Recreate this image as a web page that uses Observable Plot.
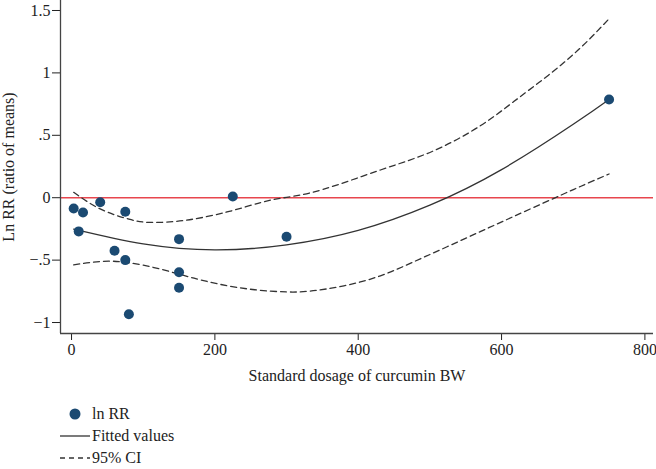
<!DOCTYPE html>
<html>
<head>
<meta charset="utf-8">
<script src="https://cdn.jsdelivr.net/npm/d3@7"></script>
<script src="https://cdn.jsdelivr.net/npm/@observablehq/plot@0.6"></script>
<style>
  body { margin: 0; background: #fff; font-family: "Liberation Serif", "DejaVu Serif", serif; color: #222; }
  #chart { width: 656px; height: 395px; }
  #legend { padding-top: 8px; font-size: 16px; }
  .row { display: flex; align-items: center; height: 22px; padding-left: 60px; }
  .row svg { width: 30px; height: 22px; flex: none; }
  .row span { margin-left: 2px; line-height: 22px; }
</style>
</head>
<body>
<div id="chart"></div>
<div id="legend"></div>
<script>
// Observed study points
const doseX = [3, 10, 16, 40, 60, 75, 75, 80, 150, 150, 150, 225, 300, 750];
const lnRR  = [-0.086, -0.27, -0.118, -0.037, -0.425, -0.112, -0.5, -0.934, -0.332, -0.597, -0.722, 0.01, -0.313, 0.787];

// Fitted values
const fitX = [3, 100, 200, 300, 400, 500, 600, 700, 750];
const fitY = [-0.252, -0.37, -0.418, -0.378, -0.262, -0.06, 0.225, 0.588, 0.787];

// 95% CI upper
const ciUpX = [3, 40, 80, 110, 160, 220, 265, 300, 350, 431, 505, 570, 617, 665, 710, 750];
const ciUpY = [0.043, -0.09, -0.172, -0.198, -0.18, -0.11, -0.037, 0.003, 0.065, 0.222, 0.375, 0.575, 0.77, 0.98, 1.2, 1.434];

// 95% CI lower
const ciLoX = [3, 40, 78, 124, 171, 217, 260, 300, 333, 380, 431, 478, 524, 571, 617, 673, 710, 750];
const ciLoY = [-0.538, -0.511, -0.519, -0.572, -0.645, -0.705, -0.74, -0.755, -0.748, -0.706, -0.626, -0.512, -0.393, -0.27, -0.15, -0.005, 0.09, 0.19];

const xTicks = [0, 200, 400, 600, 800];
const yTicks = [-1, -0.5, 0, 0.5, 1, 1.5];
const yTickLabels = ["\u22121", "\u2212.5", "0", ".5", "1", "1.5"];
const xDomain = [-15.4, 812];
const yDomain = [-1.088, 1.58];

const points = doseX.map((x, i) => ({x, y: lnRR[i]}));
const fit = fitX.map((x, i) => ({x, y: fitY[i]}));
const ciUp = ciUpX.map((x, i) => ({x, y: ciUpY[i]}));
const ciLo = ciLoX.map((x, i) => ({x, y: ciLoY[i]}));

const dotColor = "#1b4a72";
const lineColor = "#333";

const chart = Plot.plot({
  width: 656,
  height: 395,
  marginLeft: 60,
  marginRight: 3,
  marginTop: 0,
  marginBottom: 62,
  style: { fontFamily: "Liberation Serif, DejaVu Serif, serif", fontSize: "16px", color: "#222", background: "#fff", overflow: "visible" },
  x: { domain: xDomain, ticks: xTicks, tickSize: 7, tickPadding: 3, label: "Standard dosage of curcumin BW", labelAnchor: "center", labelArrow: "none", labelOffset: 47 },
  y: { domain: yDomain, ticks: yTicks, tickFormat: d => yTickLabels[yTicks.indexOf(d)], tickSize: 8, tickPadding: 2, label: "Ln RR (ratio of means)", labelAnchor: "center", labelArrow: "none", labelOffset: 58 },
  marks: [
    Plot.ruleY([0], { stroke: "#e8464e", strokeWidth: 1.5 }),
    Plot.line(ciUp, { x: "x", y: "y", curve: "natural", stroke: lineColor, strokeWidth: 1.3, strokeDasharray: "6,4" }),
    Plot.line(ciLo, { x: "x", y: "y", curve: "natural", stroke: lineColor, strokeWidth: 1.3, strokeDasharray: "6,4" }),
    Plot.line(fit, { x: "x", y: "y", curve: "natural", stroke: lineColor, strokeWidth: 1.3 }),
    Plot.dot(points, { x: "x", y: "y", r: 5, fill: dotColor }),
    Plot.ruleX([xDomain[0]], { stroke: "#444", strokeWidth: 1.3 }),
    Plot.ruleY([yDomain[0]], { stroke: "#444", strokeWidth: 1.3 })
  ]
});
document.getElementById("chart").appendChild(chart);

// Legend
const legendItems = [
  { label: "ln RR", type: "dot" },
  { label: "Fitted values", type: "solid" },
  { label: "95% CI", type: "dash" }
];
const legend = document.getElementById("legend");
for (const item of legendItems) {
  const row = document.createElement("div");
  row.className = "row";
  let sym;
  if (item.type === "dot") sym = `<svg viewBox="0 0 30 22"><circle cx="15" cy="11" r="5.5" fill="${dotColor}"/></svg>`;
  else if (item.type === "solid") sym = `<svg viewBox="0 0 30 22"><line x1="0" x2="30" y1="11" y2="11" stroke="${lineColor}" stroke-width="1.3"/></svg>`;
  else sym = `<svg viewBox="0 0 30 22"><line x1="0" x2="30" y1="11" y2="11" stroke="${lineColor}" stroke-width="1.3" stroke-dasharray="5,4"/></svg>`;
  row.innerHTML = sym + `<span>${item.label}</span>`;
  legend.appendChild(row);
}
</script>
</body>
</html>
